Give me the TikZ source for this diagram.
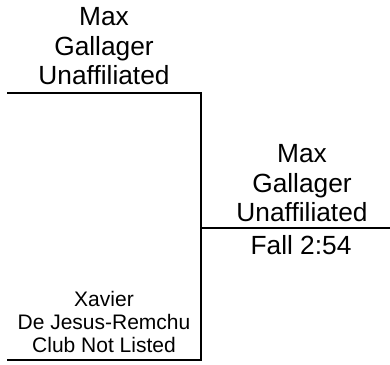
\documentclass[tikz,border=0pt]{standalone}
\usepackage{fontspec}
\setmainfont{Liberation Sans}
\begin{document}
\begin{tikzpicture}[x=1pt,y=-1pt,
  bigname/.style={inner sep=0pt,align=center,anchor=south,font=\fontsize{26.3}{29.5}\selectfont},
  smallname/.style={inner sep=0pt,align=center,anchor=south,font=\fontsize{21}{23}\selectfont},
  bracketline/.style={line width=2pt}]
\useasboundingbox (0,0) rectangle (390,364);
\coordinate (tl) at (7,93);
\coordinate (tr) at (201,93);
\coordinate (bl) at (7,360);
\coordinate (br) at (201,360);
\coordinate (wl) at (201,228);
\coordinate (wr) at (390,228);
\node[bigname] (top) at (104,85) {Max\\Gallager\\Unaffiliated};
\node[smallname] (bot) at (104,353) {Xavier\\De Jesus-Remchu\\Club Not Listed};
\node[bigname] (win) at (302,222) {Max\\Gallager\\Unaffiliated};
\node[bigname,anchor=base] (res) at (301,254) {Fall 2:54};
\draw[bracketline] (tl) -- (tr) -- (br) -- (bl);
\draw[bracketline] (wl) -- (wr);
\end{tikzpicture}
\end{document}
